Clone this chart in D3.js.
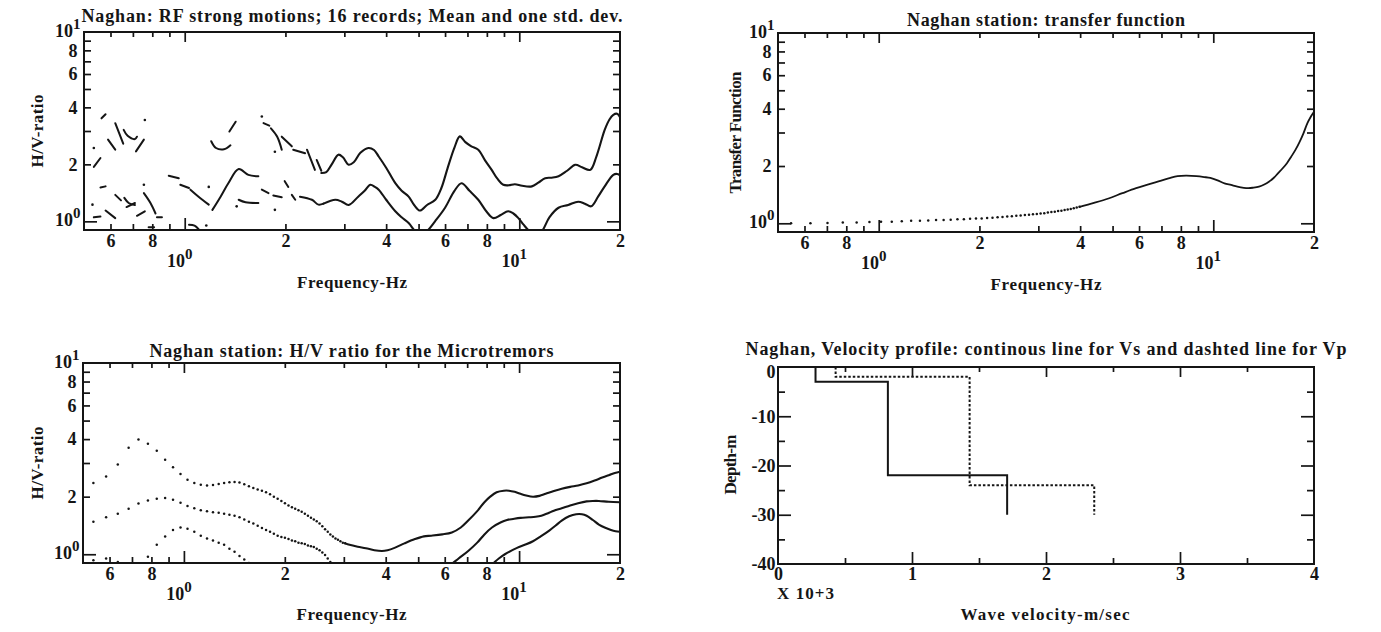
<!DOCTYPE html>
<html>
<head>
<meta charset="utf-8">
<script src="https://cdn.jsdelivr.net/npm/d3@7"></script>
<style>
  body { margin: 0; background: #fff; }
  svg { display: block; background: #fff; }
  text { font-family: "Liberation Serif", "Times New Roman", serif; font-weight: bold; fill: #151515; }
</style>
</head>
<body>
<svg id="chart" width="1381" height="632"></svg>
<script>
// ---------------- axis tick values and labels ----------------
const freqMinor = [0.6, 0.7, 0.8, 0.9, 2, 3, 4, 5, 6, 7, 8, 9];
const freqMajor = [1, 10];
const freqLabelVals = [0.6, 0.8, 2, 4, 6, 8, 20];
const freqLabelText = ["6", "8", "2", "4", "6", "8", "2"];
const freqDecades = [1, 10];
const decadeExp = ["0", "1"];

const ratioMinor = [2, 3, 4, 5, 6, 7, 8, 9];
const ratioMajor = [1];
const ratioLabelVals = [2, 4, 6, 8];
const ratioLabelText = ["2", "4", "6", "8"];
const ratioDecades = [1, 10];

const velMinor = [500, 1500, 2500, 3500];
const velMajor = [1000, 2000, 3000];
const velLabelVals = [0, 1000, 2000, 3000, 4000];
const velLabelText = ["0", "1", "2", "3", "4"];
const depthMinor = [-5, -15, -25, -35];
const depthMajor = [-10, -20, -30];
const depthLabelVals = [0, -10, -20, -30, -40];
const depthLabelText = ["0", "-10", "-20", "-30", "-40"];

// ---------------- strong-motion H/V (mean and one std. dev.) ----------------
// low-frequency part: broken pen strokes [frequency Hz, H/V]
const rfUpperPieces = [
  [[0.535, 1.94], [0.56, 2.16]],
  [[0.535, 2.44]],
  [[0.564, 3.5], [0.58, 3.68]],
  [[0.59, 2.7], [0.62, 2.39]],
  [[0.62, 3.3], [0.655, 2.57]],
  [[0.657, 3.04], [0.675, 2.83], [0.71, 2.72], [0.72, 2.8]],
  [[0.715, 2.34], [0.755, 2.7]],
  [[0.76, 3.43]],
  [[1.2, 2.65], [1.24, 2.44], [1.31, 2.4], [1.37, 2.52]],
  [[1.36, 2.98], [1.42, 3.36]],
  [[1.7, 3.58]],
  [[1.72, 3.3], [1.79, 3.2]],
  [[1.81, 3.1], [1.89, 2.8], [1.95, 2.39]],
  [[1.86, 2.33]],
  [[1.95, 2.8], [2.09, 2.49]],
  [[2.11, 2.39], [2.29, 2.29]],
  [[2.32, 2.39], [2.45, 1.87]],
  [[2.48, 2.11], [2.56, 1.85]]
];
const rfMeanPieces = [
  [[0.56, 1.51], [0.58, 1.53]],
  [[0.62, 1.38], [0.645, 1.29]],
  [[0.66, 1.33], [0.68, 1.25], [0.71, 1.22]],
  [[0.755, 1.56]],
  [[0.755, 1.41], [0.79, 1.25], [0.818, 1.1]],
  [[0.896, 1.74], [0.96, 1.69]],
  [[0.97, 1.56], [1.03, 1.5]],
  [[1.04, 1.47], [1.1, 1.35], [1.18, 1.225]],
  [[1.18, 1.52]],
  [[1.21, 1.15], [1.28, 1.35], [1.35, 1.59], [1.45, 1.89], [1.55, 1.76], [1.66, 1.73]],
  [[1.7, 1.47], [1.78, 1.41]],
  [[1.84, 1.37], [1.95, 1.34]],
  [[1.99, 1.63], [2.04, 1.52]],
  [[2.09, 1.38], [2.14, 1.30]],
  [[2.21, 1.35], [2.4, 1.30], [2.51, 1.225], [2.6, 1.24]]
];
const rfLowerPieces = [
  [[0.53, 1.225]],
  [[0.535, 1.05], [0.56, 1.06]],
  [[0.58, 1.14], [0.62, 1.04]],
  [[0.67, 1.19], [0.71, 1.25]],
  [[0.72, 1.07], [0.76, 1.13]],
  [[0.78, 0.93], [0.81, 0.93]],
  [[0.826, 1.05], [0.855, 1.05]],
  [[1.03, 0.96], [1.07, 0.95], [1.1, 0.91]],
  [[1.16, 0.95]],
  [[1.43, 1.2]],
  [[1.45, 1.30], [1.52, 1.26], [1.66, 1.25]],
  [[1.86, 1.15]]
];
// continuous part of the upper and mean curves
const rfUpper = [
  [2.56, 1.80], [2.65, 1.82], [2.75, 2.0], [2.88, 2.25], [2.97, 2.18], [3.09, 1.99], [3.2, 2.05],
  [3.35, 2.3], [3.54, 2.44], [3.68, 2.38], [3.8, 2.2], [4.0, 1.92], [4.26, 1.59], [4.45, 1.45],
  [4.67, 1.35], [4.85, 1.22], [5.05, 1.14], [5.3, 1.22], [5.61, 1.30], [5.85, 1.5], [6.1, 1.9],
  [6.4, 2.45], [6.64, 2.81], [6.9, 2.62], [7.19, 2.49], [7.54, 2.39], [7.9, 2.1], [8.27, 1.87],
  [8.6, 1.68], [8.96, 1.56], [9.3, 1.55], [9.7, 1.57], [10.2, 1.54], [10.9, 1.53], [11.4, 1.6],
  [11.95, 1.69], [12.5, 1.7], [13.1, 1.73], [13.9, 1.85], [14.7, 1.99], [15.4, 1.93], [16.3, 1.87],
  [17.0, 2.2], [18.0, 3.04], [18.6, 3.45], [19.1, 3.65], [19.6, 3.7], [20, 3.55]
];
const rfMean = [
  [2.6, 1.24], [2.82, 1.30], [2.95, 1.27], [3.09, 1.22], [3.3, 1.35], [3.45, 1.45], [3.59, 1.56],
  [3.7, 1.52], [3.8, 1.47], [4.0, 1.3], [4.26, 1.13], [4.45, 1.05], [4.67, 0.98], [4.9, 0.88],
  [5.1, 0.84], [5.28, 0.88], [5.6, 1.0], [6.0, 1.18], [6.4, 1.45], [6.72, 1.59], [7.1, 1.45],
  [7.54, 1.30], [8.0, 1.12], [8.37, 1.04], [8.8, 1.08], [9.26, 1.13], [9.6, 1.1], [9.94, 1.04],
  [10.3, 0.96], [10.7, 0.89], [11.2, 0.84], [11.7, 0.89], [12.3, 1.05], [13.1, 1.18], [14.0, 1.22],
  [15.0, 1.27], [15.7, 1.24], [16.4, 1.2], [17.2, 1.35], [18.0, 1.53], [19.1, 1.76], [19.6, 1.78],
  [20, 1.75]
];

// ---------------- transfer function ----------------
const tfFreq = [0.547, 0.625, 0.703, 0.781, 0.859, 0.938, 1.016, 1.094, 1.172, 1.250, 1.328, 1.406,
  1.484, 1.563, 1.641, 1.719, 1.797, 1.875, 1.953, 2.031, 2.109, 2.188, 2.266, 2.344, 2.422, 2.500,
  2.578, 2.656, 2.734, 2.813, 2.891, 2.969, 3.047, 3.125, 3.203, 3.281, 3.359, 3.438, 3.516, 3.594,
  3.672, 3.750, 3.828, 3.906, 3.984];
const tfDots = [1.00, 1.00, 1.005, 1.01, 1.01, 1.015, 1.02, 1.02, 1.025, 1.03, 1.03, 1.035, 1.04,
  1.04, 1.045, 1.05, 1.05, 1.055, 1.06, 1.06, 1.065, 1.07, 1.075, 1.08, 1.085, 1.09, 1.095, 1.10,
  1.105, 1.11, 1.115, 1.12, 1.125, 1.13, 1.14, 1.145, 1.15, 1.16, 1.165, 1.175, 1.18, 1.19, 1.20,
  1.21, 1.22];
const tfLine = [
  [3.984, 1.22], [4.4, 1.28], [4.86, 1.35], [5.35, 1.44], [5.88, 1.53], [6.4, 1.60], [6.86, 1.66],
  [7.35, 1.72], [7.82, 1.77], [8.3, 1.78], [8.9, 1.77], [9.4, 1.75], [9.8, 1.73], [10.3, 1.68],
  [10.8, 1.62], [11.3, 1.59], [11.8, 1.56], [12.7, 1.53], [13.2, 1.54], [13.7, 1.56], [14.2, 1.60],
  [14.7, 1.66], [15.2, 1.74], [15.6, 1.83], [16.1, 1.94], [16.6, 2.07], [17.1, 2.24], [17.6, 2.43],
  [18.1, 2.67], [18.6, 2.97], [19.1, 3.35], [19.6, 3.65], [20, 3.86]
];

// ---------------- microtremor H/V ----------------
const microFreq = [0.537, 0.586, 0.635, 0.684, 0.732, 0.781, 0.830, 0.879, 0.928, 0.977, 1.025,
  1.074, 1.123, 1.172, 1.221, 1.270, 1.318, 1.367, 1.416, 1.465, 1.514, 1.563, 1.611, 1.660, 1.709,
  1.758, 1.807, 1.855, 1.904, 1.953, 2.002, 2.051, 2.100, 2.148, 2.197, 2.246, 2.295, 2.344, 2.393,
  2.441, 2.490, 2.539, 2.588, 2.637, 2.686, 2.734, 2.783, 2.832, 2.881, 2.930, 2.979, 3.027];
const microUpperDots = [2.36, 2.55, 2.95, 3.60, 3.98, 3.78, 3.48, 3.12, 2.85, 2.63, 2.45, 2.36, 2.31,
  2.29, 2.30, 2.33, 2.36, 2.38, 2.39, 2.37, 2.32, 2.27, 2.22, 2.18, 2.15, 2.11, 2.06, 2.00, 1.95, 1.90,
  1.85, 1.80, 1.76, 1.73, 1.70, 1.67, 1.63, 1.59, 1.55, 1.52, 1.49, 1.45, 1.40, 1.35, 1.31, 1.27, 1.24,
  1.21, 1.19, 1.17, 1.15, 1.14];
const microMeanDots = [1.48, 1.56, 1.63, 1.73, 1.84, 1.91, 1.95, 1.97, 1.93, 1.86, 1.79, 1.74, 1.70,
  1.68, 1.66, 1.65, 1.63, 1.61, 1.59, 1.56, 1.52, 1.48, 1.45, 1.41, 1.37, 1.34, 1.31, 1.28, 1.25, 1.23,
  1.22, 1.20, 1.18, 1.17, 1.15, 1.14, 1.13, 1.11, 1.10, 1.09, 1.07, 1.05, 1.02, 0.99, 0.95, 0.91, 0.88];
const microLowerDots = [0.93, 0.95, 0.91, 0.86, 0.85, 0.97, 1.12, 1.24, 1.34, 1.38, 1.36, 1.31, 1.25,
  1.21, 1.18, 1.15, 1.12, 1.07, 1.03, 0.98, 0.94, 0.90, 0.87];
const microUpperLine = [
  [3.027, 1.14], [3.12, 1.12], [3.3, 1.095], [3.49, 1.075], [3.7, 1.05], [3.9, 1.04], [4.05, 1.05],
  [4.25, 1.08], [4.55, 1.14], [4.89, 1.2], [5.2, 1.24], [5.47, 1.25], [5.9, 1.27], [6.3, 1.30],
  [6.7, 1.38], [7.05, 1.50], [7.5, 1.68], [7.88, 1.87], [8.2, 2.0], [8.57, 2.11], [9.0, 2.15],
  [9.33, 2.15], [9.7, 2.12], [10.1, 2.07], [10.5, 2.03], [11.0, 2.0], [11.5, 2.02], [12.0, 2.07],
  [12.7, 2.14], [13.4, 2.2], [14.2, 2.25], [15.0, 2.29], [15.9, 2.35], [16.8, 2.43], [17.7, 2.52],
  [18.6, 2.6], [19.3, 2.66], [20, 2.7]
];
const microMeanLine = [
  [5.9, 0.82], [6.3, 0.89], [6.6, 0.95], [7.05, 1.04], [7.5, 1.15], [7.88, 1.27], [8.3, 1.38],
  [8.83, 1.47], [9.2, 1.51], [9.6, 1.53], [10.1, 1.55], [10.7, 1.56], [11.2, 1.57], [11.65, 1.59],
  [12.2, 1.64], [12.7, 1.69], [13.4, 1.74], [14.2, 1.80], [15.0, 1.85], [15.9, 1.89], [16.6, 1.90],
  [17.3, 1.90], [18.5, 1.88], [20, 1.87]
];
const microLowerLine = [
  [7.9, 0.83], [8.33, 0.89], [8.7, 0.95], [9.07, 1.0], [9.86, 1.08], [10.4, 1.12], [11.0, 1.17],
  [11.6, 1.24], [12.3, 1.33], [12.9, 1.42], [13.4, 1.50], [14.1, 1.58], [14.8, 1.62], [15.4, 1.62],
  [15.9, 1.59], [16.6, 1.51], [17.3, 1.43], [18.0, 1.38], [18.8, 1.34], [19.4, 1.32], [20, 1.31]
];

// ---------------- velocity profile (m/s, layer tops in m) ----------------
const vsVel = [280, 820, 1710];
const vsTop = [0, 3, 22];
const vpVel = [430, 1430, 2360];
const vpTop = [0, 2, 24];
const profileBottom = 30;

// ---------------- drawing ----------------
const INK = "#151515";
const FONT = '"Liberation Serif", "Times New Roman", serif';
const svg = d3.select("#chart");

const boxes = {
  rf:  { x0: 84,  x1: 620,  y0: 32,  y1: 230 },
  tf:  { x0: 778, x1: 1314, y0: 33,  y1: 232 },
  mt:  { x0: 83,  x1: 620,  y0: 363, y1: 563 },
  vel: { x0: 778, x1: 1314, y0: 367, y1: 564 }
};

function logScales(b) {
  return {
    x: d3.scaleLog().domain([0.5, 20]).range([b.x0, b.x1]),
    y: d3.scaleLog().domain([0.9, 10]).range([b.y1, b.y0])
  };
}

function tickAxis(g, fn, scale, vals, len, transform) {
  const a = fn(scale).tickValues(vals).tickSize(-len).tickFormat("");
  const gg = g.append("g").attr("transform", transform).call(a);
  gg.select(".domain").remove();
  gg.selectAll("line").attr("stroke", INK).attr("stroke-width", 1.7);
}

function labelAxis(g, fn, scale, vals, texts, pad, transform) {
  const a = fn(scale).tickValues(vals).tickSize(0).tickPadding(pad).tickFormat((d, i) => texts[i]);
  const gg = g.append("g").attr("transform", transform).call(a);
  gg.select(".domain").remove();
  gg.attr("font-family", FONT).attr("font-size", 18).attr("font-weight", "bold").attr("color", INK);
  return gg;
}

function frame(g, b, x, y, t) {
  g.append("rect")
    .attr("x", b.x0).attr("y", b.y0).attr("width", b.x1 - b.x0).attr("height", b.y1 - b.y0)
    .attr("fill", "none").attr("stroke", INK).attr("stroke-width", 2);
  tickAxis(g, d3.axisBottom, x, t.xMinor, 6, `translate(0,${b.y1})`);
  tickAxis(g, d3.axisBottom, x, t.xMajor, 12, `translate(0,${b.y1})`);
  tickAxis(g, d3.axisTop, x, t.xMinor, 5, `translate(0,${b.y0})`);
  tickAxis(g, d3.axisTop, x, t.xMajor, 10, `translate(0,${b.y0})`);
  tickAxis(g, d3.axisLeft, y, t.yMinor, 7, `translate(${b.x0},0)`);
  tickAxis(g, d3.axisLeft, y, t.yMajor, 13, `translate(${b.x0},0)`);
  tickAxis(g, d3.axisRight, y, t.yMinor, 7, `translate(${b.x1},0)`);
  tickAxis(g, d3.axisRight, y, t.yMajor, 13, `translate(${b.x1},0)`);
}

function decade(g, x, y, exp, anchor) {
  const t = g.append("text").attr("x", x).attr("y", y).attr("text-anchor", anchor).attr("font-size", 18);
  t.append("tspan").text("10");
  t.append("tspan").attr("dy", -8).attr("font-size", 15).text(exp);
}

function txt(g, s, x, y, o = {}) {
  const t = g.append("text").attr("x", x).attr("y", y).text(s)
    .attr("font-size", o.size || 18).attr("text-anchor", o.anchor || "middle");
  if (o.len) t.attr("textLength", o.len).attr("lengthAdjust", o.adjust || "spacing");
  if (o.rotate) t.attr("transform", `rotate(-90,${x},${y})`);
  return t;
}

function logPanel(key, s) {
  const b = boxes[key];
  const g = svg.append("g");
  frame(g, b, s.x, s.y, { xMinor: freqMinor, xMajor: freqMajor, yMinor: ratioMinor, yMajor: ratioMajor });
  labelAxis(g, d3.axisBottom, s.x, freqLabelVals, freqLabelText, 4, `translate(0,${b.y1})`);
  labelAxis(g, d3.axisLeft, s.y, ratioLabelVals, ratioLabelText, 6.5, `translate(${b.x0},0)`);
  freqDecades.forEach((v, i) => decade(g, s.x(v) - 5, b.y1 + 37, decadeExp[i], "middle"));
  ratioDecades.forEach((v, i) => decade(g, b.x0 - 3.5, s.y(v) + 4.5, decadeExp[i], "end"));
  g.append("clipPath").attr("id", "clip-" + key).append("rect")
    .attr("x", b.x0).attr("y", b.y0).attr("width", b.x1 - b.x0).attr("height", b.y1 - b.y0);
  const plot = g.append("g").attr("clip-path", `url(#clip-${key})`);
  return { g, plot, b };
}

function curve(plot, s, pts, width) {
  const line = d3.line().x(d => s.x(d[0])).y(d => s.y(d[1])).curve(d3.curveCatmullRom.alpha(0.5));
  plot.append("path").datum(pts).attr("d", line)
    .attr("fill", "none").attr("stroke", INK).attr("stroke-width", width)
    .attr("stroke-linejoin", "round").attr("stroke-linecap", "round");
}

function pieces(plot, s, list) {
  list.forEach(p => {
    if (p.length === 1) {
      plot.append("circle").attr("cx", s.x(p[0][0])).attr("cy", s.y(p[0][1])).attr("r", 1.3).attr("fill", INK);
    } else {
      curve(plot, s, p, 2);
    }
  });
}

function dots(plot, s, freqs, vals) {
  plot.selectAll(null).data(vals).enter().append("circle")
    .attr("cx", (d, i) => s.x(freqs[i])).attr("cy", d => s.y(d))
    .attr("r", 1.25).attr("fill", INK);
}

// Panel: strong motion H/V
{
  const s = logScales(boxes.rf);
  const { g, plot, b } = logPanel("rf", s);
  pieces(plot, s, rfUpperPieces);
  pieces(plot, s, rfMeanPieces);
  pieces(plot, s, rfLowerPieces);
  curve(plot, s, rfUpper, 2.1);
  curve(plot, s, rfMean, 2.1);
  const cx = (b.x0 + b.x1) / 2;
  txt(g, "Naghan: RF strong motions; 16 records; Mean and one std. dev.", cx, 22, { len: 541 });
  txt(g, "Frequency-Hz", cx, 288, { size: 17, len: 110 });
  txt(g, "H/V-ratio", 42.5, (b.y0 + b.y1) / 2, { size: 17, len: 73, rotate: true });
}

// Panel: transfer function
{
  const s = logScales(boxes.tf);
  const { g, plot, b } = logPanel("tf", s);
  dots(plot, s, tfFreq, tfDots);
  curve(plot, s, tfLine, 1.8);
  const cx = (b.x0 + b.x1) / 2;
  txt(g, "Naghan station: transfer function", cx, 26, { len: 278 });
  txt(g, "Frequency-Hz", cx, 290, { size: 17, len: 111 });
  txt(g, "Transfer Function", 741, (b.y0 + b.y1) / 2, { size: 17, len: 122, rotate: true });
}

// Panel: microtremor H/V
{
  const s = logScales(boxes.mt);
  const { g, plot, b } = logPanel("mt", s);
  dots(plot, s, microFreq, microUpperDots);
  dots(plot, s, microFreq, microMeanDots);
  dots(plot, s, microFreq, microLowerDots);
  curve(plot, s, microUpperLine, 2.1);
  curve(plot, s, microMeanLine, 2.1);
  curve(plot, s, microLowerLine, 2.1);
  const cx = (b.x0 + b.x1) / 2;
  txt(g, "Naghan station: H/V ratio for the Microtremors", cx, 356.5, { len: 404 });
  txt(g, "Frequency-Hz", cx, 620, { size: 17, len: 110 });
  txt(g, "H/V-ratio", 42.5, (b.y0 + b.y1) / 2, { size: 17, len: 73, rotate: true });
}

// Panel: velocity profile
{
  const b = boxes.vel;
  const g = svg.append("g");
  const x = d3.scaleLinear().domain([0, 4000]).range([b.x0, b.x1]);
  const y = d3.scaleLinear().domain([-40, 0]).range([b.y1, b.y0]);
  frame(g, b, x, y, { xMinor: velMinor, xMajor: velMajor, yMinor: depthMinor, yMajor: depthMajor });
  labelAxis(g, d3.axisBottom, x, velLabelVals, velLabelText, 3.5, `translate(0,${b.y1})`);
  const yl = labelAxis(g, d3.axisLeft, y, depthLabelVals, depthLabelText, 2.5, `translate(${b.x0},0)`);
  // the top depth label sits just under the title, nudged down a little
  yl.selectAll("text").filter(d => d === 0).attr("dy", "0.6em");

  const steps = (vel, top) => {
    const pts = [];
    vel.forEach((v, i) => {
      pts.push([v, -top[i]]);
      pts.push([v, -(i + 1 < top.length ? top[i + 1] : profileBottom)]);
    });
    return pts;
  };
  const line = d3.line().x(d => x(d[0])).y(d => y(d[1]));
  g.append("path").datum(steps(vsVel, vsTop)).attr("d", line)
    .attr("fill", "none").attr("stroke", INK).attr("stroke-width", 2);
  g.append("path").datum(steps(vpVel, vpTop)).attr("d", line)
    .attr("fill", "none").attr("stroke", INK).attr("stroke-width", 2).attr("stroke-dasharray", "2.5,2");

  const cx = (b.x0 + b.x1) / 2;
  txt(g, "Naghan, Velocity profile: continous line for Vs and dashted line for Vp", cx, 355, { len: 601 });
  txt(g, "Wave velocity-m/sec", 1045, 620, { size: 17, len: 169 });
  txt(g, "X 10+3", b.x0 - 1, 599, { size: 17, len: 57, anchor: "start" });
  txt(g, "Depth-m", 735.5, (b.y0 + b.y1) / 2 - 1, { size: 17, len: 60, rotate: true });
}
</script>
</body>
</html>
